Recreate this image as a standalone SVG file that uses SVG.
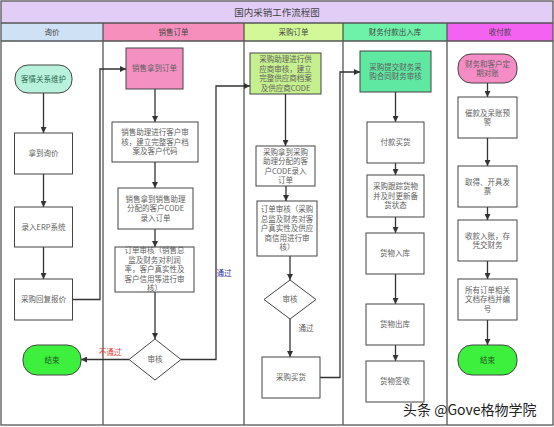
<svg xmlns="http://www.w3.org/2000/svg" width="554" height="427" viewBox="0 0 554 427">
<defs>
<marker id="ah" viewBox="0 0 10 10" refX="10" refY="5" markerWidth="6" markerHeight="6" markerUnits="userSpaceOnUse" orient="auto">
<path d="M0,0 L10,5 L0,10 z" fill="#333"/>
</marker>
<style>
text{font-family:"Noto Sans CJK SC","Noto Sans",sans-serif;}
.t{font-size:7.5px;fill:#606060;text-anchor:middle;}
.h{font-size:7.5px;fill:#444;text-anchor:middle;}
.b{fill:#fff;stroke:#444;stroke-width:1;}
.lane{stroke:#555;stroke-width:1.3;fill:none;}
.c{stroke:#333;stroke-width:1.3;fill:none;marker-end:url(#ah);}
</style>
</defs>
<rect x="0" y="0" width="554" height="427" fill="#fff"/>
<g id="title">
<rect x="1" y="1" width="552" height="22" fill="#e2cdf6"/>
<text x="277" y="15.5" style="font-size:9.5px;fill:#444;text-anchor:middle">国内采销工作流程图</text>
</g>
<g id="headers">
<rect x="1" y="23" width="102" height="18" fill="#cfe2f5"/>
<rect x="103" y="23" width="141" height="18" fill="#f78fbd"/>
<rect x="244" y="23" width="99" height="18" fill="#d2f898"/>
<rect x="343" y="23" width="104" height="18" fill="#6ef2aa"/>
<rect x="447" y="23" width="106" height="18" fill="#f462f2"/>
<text class="h" x="52" y="34.7">询价</text>
<text class="h" x="173.5" y="34.7">销售订单</text>
<text class="h" x="293.5" y="34.7">采购订单</text>
<text class="h" x="395" y="34.7">财务付款出入库</text>
<text class="h" x="500" y="34.7">收付款</text>
</g>
<g id="lanes">
<rect x="1" y="1" width="552" height="424" class="lane"/>
<line x1="1" y1="23" x2="553" y2="23" class="lane"/>
<line x1="1" y1="41" x2="553" y2="41" class="lane"/>
<line x1="103" y1="23" x2="103" y2="425" class="lane"/>
<line x1="244" y1="23" x2="244" y2="425" class="lane"/>
<line x1="343" y1="23" x2="343" y2="425" class="lane"/>
<line x1="447" y1="23" x2="447" y2="425" class="lane"/>
</g>
<g id="connectors">
<line x1="43.5" y1="93" x2="43.5" y2="133" class="c"/>
<line x1="43.5" y1="174" x2="43.5" y2="207" class="c"/>
<line x1="43.5" y1="247" x2="43.5" y2="279" class="c"/>
<polyline points="72.5,299.5 100,299.5 100,69 126,69" class="c"/>
<line x1="155" y1="89" x2="155" y2="122" class="c"/>
<line x1="155" y1="162" x2="155" y2="188" class="c"/>
<line x1="155" y1="229" x2="155" y2="247" class="c"/>
<line x1="155" y1="292" x2="155" y2="339" class="c"/>
<line x1="129" y1="359.5" x2="81" y2="359.5" class="c"/>
<polyline points="181,359.5 216,359.5 216,86 250,86" class="c"/>
<line x1="285.5" y1="94" x2="285.5" y2="146" class="c"/>
<line x1="286" y1="186" x2="286" y2="201" class="c"/>
<line x1="290" y1="256" x2="290" y2="280" class="c"/>
<line x1="290" y1="319" x2="290" y2="357" class="c"/>
<polyline points="320,377.5 340,377.5 340,72 360,72" class="c"/>
<line x1="395.5" y1="92" x2="395.5" y2="122" class="c"/>
<line x1="395.5" y1="163" x2="395.5" y2="175" class="c"/>
<line x1="395.5" y1="217" x2="395.5" y2="233" class="c"/>
<line x1="395.5" y1="274" x2="395.5" y2="304" class="c"/>
<line x1="395.5" y1="345" x2="395.5" y2="361" class="c"/>
<line x1="487.5" y1="83" x2="487.5" y2="97" class="c"/>
<line x1="487.5" y1="138" x2="487.5" y2="166" class="c"/>
<line x1="487.5" y1="207" x2="487.5" y2="220" class="c"/>
<line x1="487.5" y1="261" x2="487.5" y2="279" class="c"/>
<line x1="487.5" y1="320" x2="487.5" y2="345" class="c"/>
<text x="110" y="355" style="font-size:7.5px;fill:#e03535;text-anchor:middle">不通过</text>
<text x="224" y="275.5" style="font-size:7.5px;fill:#2b2ba0;text-anchor:middle">通过</text>
<text x="306" y="331" style="font-size:7.5px;fill:#606060;text-anchor:middle">通过</text>
</g>
<g id="n1"><rect x="15" y="65" width="57" height="28" rx="13" fill="#b9f2dc" stroke="#444"/><text class="t" x="43.5" y="81.8" style="fill:#2a6a50">客情关系维护</text></g>
<g id="n2"><rect x="14.5" y="133" width="58" height="41" class="b"/><text class="t" x="43.5" y="156.3">拿到询价</text></g>
<g id="n3"><rect x="14.5" y="207" width="58" height="40" class="b"/><text class="t" x="43.5" y="229.8">录入ERP系统</text></g>
<g id="n4"><rect x="14.5" y="279" width="58" height="41" class="b"/><text class="t" x="43.5" y="302.3">采购回复报价</text></g>
<g id="n5"><rect x="23" y="345" width="58" height="30" rx="14" fill="#3ef03e" stroke="#444"/><text class="t" x="52" y="362.8" style="fill:#1f5a1f">结束</text></g>
<g id="s1"><rect x="126" y="48" width="57" height="41" fill="#f590c2" stroke="#444"/><text class="t" x="154.5" y="71.3">销售拿到订单</text></g>
<g id="s2"><rect x="112" y="122" width="86" height="40" class="b"/><text class="t"><tspan x="155" y="135.3">销售助理进行客户审</tspan><tspan x="155" y="144.8">核，建立完整客户档</tspan><tspan x="155" y="154.3">案及客户代码</tspan></text></g>
<g id="s3"><rect x="118" y="188" width="75" height="41" class="b"/><text class="t"><tspan x="155.5" y="201.8">销售拿到销售助理</tspan><tspan x="155.5" y="211.3">分配的客户CODE</tspan><tspan x="155.5" y="220.8">录入订单</tspan></text></g>
<g id="s4"><rect x="115" y="247" width="79" height="45" class="b"/><text class="t"><tspan x="154.5" y="253.3">订单审核（销售总</tspan><tspan x="154.5" y="262.8">监及财务对利润</tspan><tspan x="154.5" y="272.3">率，客户真实性及</tspan><tspan x="154.5" y="281.8">客户信用等进行审</tspan><tspan x="154.5" y="291.3">核）</tspan></text></g>
<g id="s5"><polygon points="155,339 181,359.5 155,380 129,359.5" class="b"/><text class="t" x="155" y="362.3">审核</text></g>
<g id="p1"><rect x="250" y="53" width="71" height="41" fill="#c6f08e" stroke="#444"/><text class="t"><tspan x="285.5" y="62">采购助理进行供</tspan><tspan x="285.5" y="71.5">应商审核，建立</tspan><tspan x="285.5" y="81">完整供应商档案</tspan><tspan x="285.5" y="90.5">及供应商CODE</tspan></text></g>
<g id="p2"><rect x="256" y="146" width="59" height="40" class="b"/><text class="t"><tspan x="285.5" y="154.5">采购拿到采购</tspan><tspan x="285.5" y="164">助理分配的客</tspan><tspan x="285.5" y="173.5">户CODE录入</tspan><tspan x="285.5" y="183">订单</tspan></text></g>
<g id="p3"><rect x="257" y="201" width="60" height="55" class="b"/><text class="t"><tspan x="287" y="212.3">订单审核（采购</tspan><tspan x="287" y="221.8">总监及财务对客</tspan><tspan x="287" y="231.3">户真实性及供应</tspan><tspan x="287" y="240.8">商信用进行审</tspan><tspan x="287" y="250.3">核）</tspan></text></g>
<g id="p4"><polygon points="290,280 316,299.5 290,319 264,299.5" class="b"/><text class="t" x="290" y="302.3">审核</text></g>
<g id="p5"><rect x="262" y="357" width="58" height="41" class="b"/><text class="t" x="291" y="380.3">采购买货</text></g>
<g id="f1"><rect x="360" y="51" width="71" height="41" fill="#5fe8a2" stroke="#444"/><text class="t"><tspan x="395.5" y="69.5">采购提交财务采</tspan><tspan x="395.5" y="79">购合同财务审核</tspan></text></g>
<g id="f2"><rect x="367" y="122" width="57" height="41" class="b"/><text class="t" x="395.5" y="145.3">付款买货</text></g>
<g id="f3"><rect x="367" y="175" width="57" height="42" class="b"/><text class="t"><tspan x="395.5" y="189.3">采购跟踪货物</tspan><tspan x="395.5" y="198.8">并及时更新备</tspan><tspan x="395.5" y="208.3">货状态</tspan></text></g>
<g id="f4"><rect x="366" y="233" width="58" height="41" class="b"/><text class="t" x="395" y="256.3">货物入库</text></g>
<g id="f5"><rect x="366" y="304" width="58" height="41" class="b"/><text class="t" x="395" y="327.3">货物出库</text></g>
<g id="f6"><rect x="366" y="361" width="58" height="41" class="b"/><text class="t" x="395" y="384.3">货物签收</text></g>
<g id="r1"><rect x="458" y="54" width="59" height="29" rx="13" fill="#f58cc6" stroke="#444"/><text class="t"><tspan x="487.5" y="66.5">财务和客户定</tspan><tspan x="487.5" y="76">期对账</tspan></text></g>
<g id="r2"><rect x="458" y="97" width="59" height="41" class="b"/><text class="t"><tspan x="487.5" y="115.5">催款及呆账预</tspan><tspan x="487.5" y="125">警</tspan></text></g>
<g id="r3"><rect x="458" y="166" width="59" height="41" class="b"/><text class="t"><tspan x="487.5" y="184.5">取得、开具发</tspan><tspan x="487.5" y="194">票</tspan></text></g>
<g id="r4"><rect x="458" y="220" width="59" height="41" class="b"/><text class="t"><tspan x="487.5" y="238.5">收款入账，存</tspan><tspan x="487.5" y="248">凭交财务</tspan></text></g>
<g id="r5"><rect x="458" y="279" width="59" height="41" class="b"/><text class="t"><tspan x="487.5" y="292.8">所有订单相关</tspan><tspan x="487.5" y="302.3">文档存档并编</tspan><tspan x="487.5" y="311.8">号</tspan></text></g>
<g id="r6"><rect x="458" y="345" width="59" height="30" rx="14" fill="#3ef03e" stroke="#444"/><text class="t" x="487.5" y="362.8" style="fill:#1f5a1f">结束</text></g>
<text x="403" y="415" style="font-size:14px;fill:#222">头条 @Gove格物学院</text>
</svg>
